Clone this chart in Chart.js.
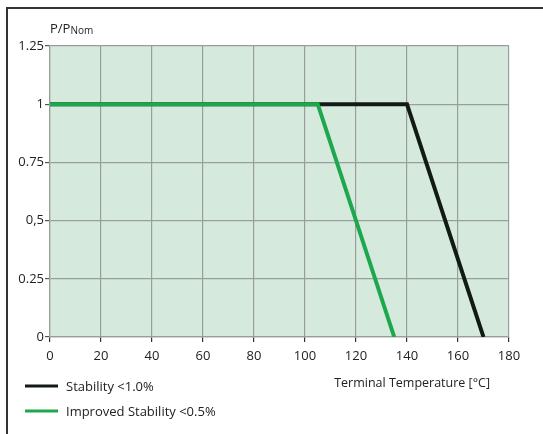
<!DOCTYPE html>
<html>
<head>
<meta charset="utf-8">
<script src="https://cdn.jsdelivr.net/npm/chart.js@4/dist/chart.umd.min.js"></script>
<style>
  html, body { margin: 0; padding: 0; background: #fff; }
  #wrap { position: relative; width: 543px; height: 434px; overflow: hidden; }
  #frame { position: absolute; left: 6px; top: 7px; width: 600px; height: 500px;
           border-top: 2px solid #333; border-left: 2px solid #333; }
  canvas { position: absolute; left: 0; top: 0; }
</style>
</head>
<body>
<div id="wrap">
  <div id="frame"></div>
  <canvas id="derating" width="543" height="434"></canvas>
</div>
<script>
const seriesNames = ['Stability <1.0%', 'Improved Stability <0.5%'];
const seriesColors = ['#111a14', '#1ea84e'];
const stdTemp = [0, 140, 170];
const stdPower = [1, 1, 0];
const improvedTemp = [0, 105, 135];
const improvedPower = [1, 1, 0];
const yTickLabels = ['0', '0.25', '0,5', '0.75', '1', '1.25'];
const xTitle = 'Terminal Temperature [°C]';

const toPoints = (xs, ys) => xs.map((x, i) => ({ x: x, y: ys[i] }));
const FONT = '"Open Sans", "DejaVu Sans", sans-serif';

const decorations = {
  id: 'decorations',
  beforeDraw(chart) {
    const { ctx, chartArea: a } = chart;
    ctx.save();
    ctx.fillStyle = '#d5eadd';
    ctx.fillRect(a.left, a.top, a.right - a.left, a.bottom - a.top);
    ctx.restore();
  },
  afterDraw(chart) {
    const { ctx, chartArea: a } = chart;
    ctx.save();
    ctx.fillStyle = '#222';
    ctx.textBaseline = 'alphabetic';
    // y axis title P/P_Nom
    ctx.font = '13px ' + FONT;
    ctx.textAlign = 'left';
    ctx.fillText('P/P', 50, 33);
    const w = ctx.measureText('P/P').width;
    ctx.font = '10px ' + FONT;
    ctx.fillText('Nom', 50 + w, 34);
    // x axis title
    ctx.font = '12.5px ' + FONT;
    ctx.textAlign = 'right';
    ctx.fillText(xTitle, a.right - 19, 387);
    // legend
    ctx.font = '13px ' + FONT;
    ctx.textAlign = 'left';
    chart.data.datasets.slice().sort((p, q) => p.legendOrder - q.legendOrder).forEach((ds, i) => {
      const y = 386 + i * 25;
      ctx.strokeStyle = ds.borderColor;
      ctx.lineWidth = 3;
      ctx.beginPath();
      ctx.moveTo(25, y);
      ctx.lineTo(58, y);
      ctx.stroke();
      ctx.fillStyle = '#222';
      ctx.fillText(ds.label, 66, y + 5);
    });
    ctx.restore();
  }
};

new Chart(document.getElementById('derating'), {
  type: 'line',
  data: {
    datasets: [
      {
        label: seriesNames[1],
        data: toPoints(improvedTemp, improvedPower),
        borderColor: seriesColors[1],
        borderWidth: 4,
        pointRadius: 0,
        legendOrder: 1,
        order: 0
      },
      {
        label: seriesNames[0],
        data: toPoints(stdTemp, stdPower),
        borderColor: seriesColors[0],
        borderWidth: 4,
        pointRadius: 0,
        legendOrder: 0,
        order: 1
      }
    ]
  },
  options: {
    responsive: false,
    animation: false,
    layout: { padding: { left: 0, right: 34, top: 46, bottom: 67 } },
    plugins: { legend: { display: false }, tooltip: { enabled: false } },
    scales: {
      x: {
        type: 'linear',
        min: 0,
        max: 180,
        afterFit(scale) { scale.height = 30; },
        ticks: { stepSize: 20, color: '#222', font: { family: FONT, size: 13 }, padding: 6 },
        grid: { color: '#9a9e9b', lineWidth: 1.2, tickLength: 5, tickColor: '#333' },
        border: { color: '#9a9e9b', width: 1.2 }
      },
      y: {
        min: 0,
        max: 1.25,
        afterFit(scale) { scale.width = 50; },
        ticks: {
          stepSize: 0.25,
          color: '#222',
          font: { family: FONT, size: 13 },
          padding: 1,
          callback: (v, i) => yTickLabels[i]
        },
        grid: { color: '#9a9e9b', lineWidth: 1.2, tickLength: 5, tickColor: '#555' },
        border: { color: '#9a9e9b', width: 1.2 }
      }
    }
  },
  plugins: [decorations]
});
</script>
</body>
</html>
